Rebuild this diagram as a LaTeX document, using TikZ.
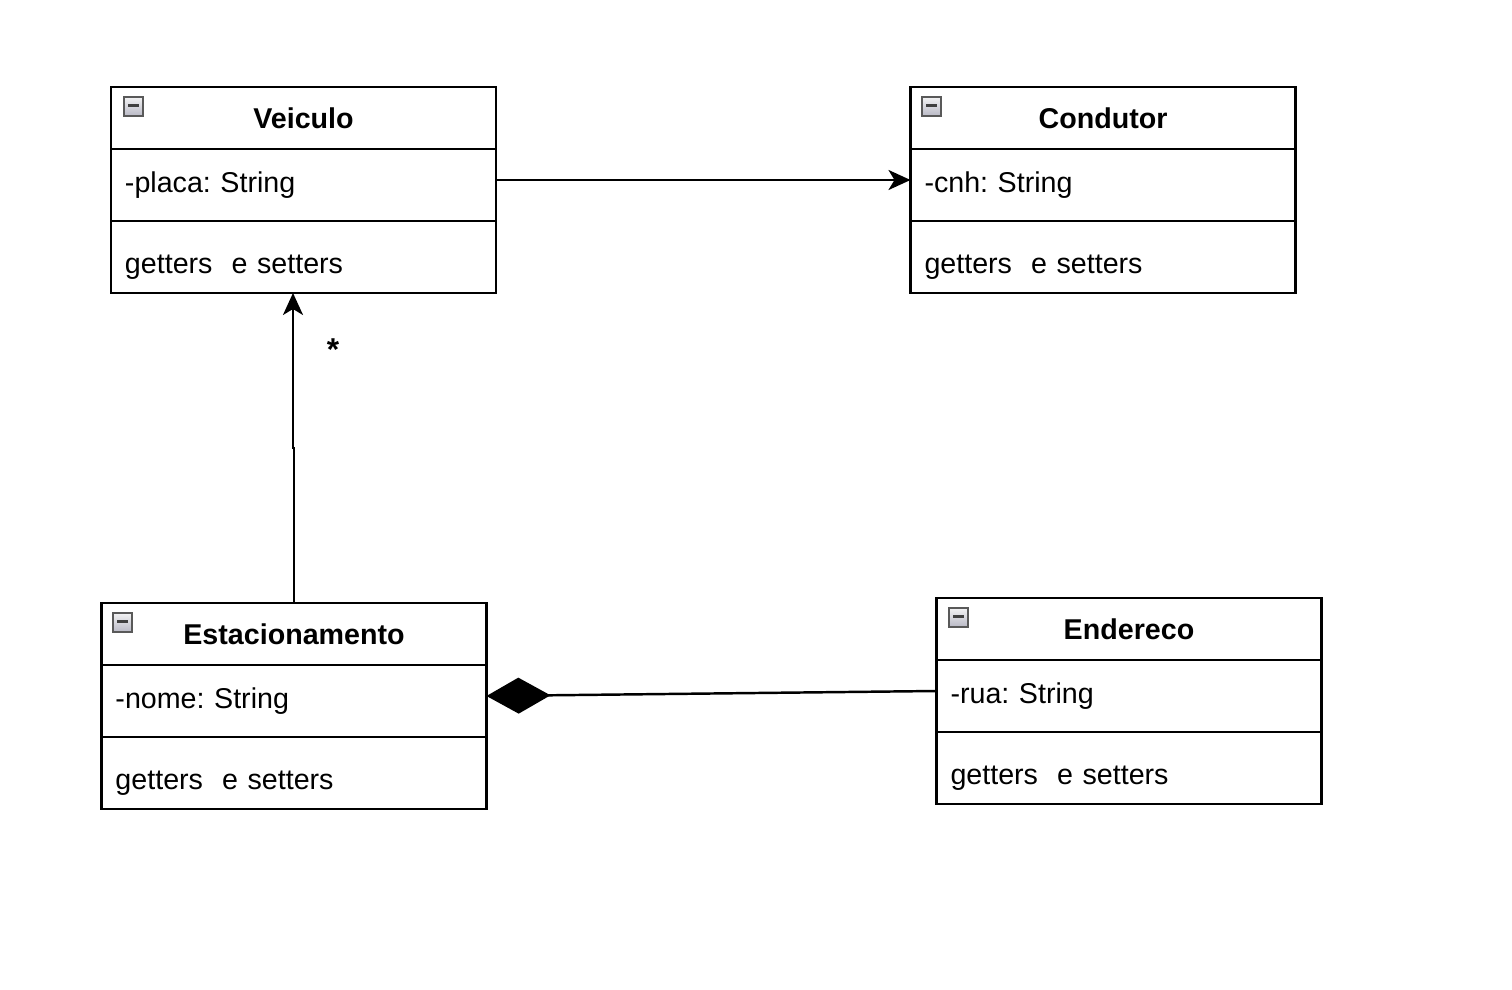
\documentclass[tikz,border=0pt]{standalone}
\usepackage{fontspec}
\setmainfont{Liberation Sans}
\frenchspacing
\usetikzlibrary{arrows.meta,positioning}
\tikzstyle{hd}=[draw=black,line width=.75pt,minimum width=3.85cm,minimum height=.62cm,inner sep=0pt,outer sep=0pt,font=\fontsize{8.15}{10}\selectfont\bfseries,text height=.26cm,text depth=.06cm]
\tikzstyle{att}=[draw=black,line width=.75pt,minimum width=3.85cm,minimum height=.72cm,inner xsep=.14cm,inner ysep=0pt,outer sep=0pt,text width=3.57cm,align=left,text height=.2cm,text depth=.06cm]
\tikzstyle{mth}=[att,text height=.38cm]
\tikzstyle{icn}=[draw=gray!70!black,line width=.3pt,top color=blue!5!gray!10,bottom color=blue!10!gray!50,minimum size=.19cm,inner sep=0pt,
  path picture={\draw[line width=.7pt,black!75] ([xshift=.04cm,yshift=.01cm]path picture bounding box.west) -- ([xshift=-.04cm,yshift=.01cm]path picture bounding box.east);}]
\tikzstyle{assoc}=[line width=.7pt,-{Stealth[length=.22cm,width=.2cm,inset=.06cm]}]
\tikzstyle{comp}=[line width=.7pt,-{Diamond[length=.64cm,width=.36cm]}]

\begin{document}
\begin{tikzpicture}[font=\fontsize{8.15}{10}\selectfont]
\useasboundingbox (0,0) rectangle (15.12,-9.90);
% Veiculo
\node[hd] (veiculo) at (3.035,-1.18) {Veiculo};
\node[att,anchor=north] (veiculoA) at (veiculo.south) {-placa: String};
\node[mth,anchor=north] (veiculoM) at (veiculoA.south) {getters\ \ e setters};
\node[icn] (veiculoI) at (1.335,-1.065) {};
% Condutor
\node[hd] (condutor) at (11.03,-1.18) {Condutor};
\node[att,anchor=north] (condutorA) at (condutor.south) {-cnh: String};
\node[mth,anchor=north] (condutorM) at (condutorA.south) {getters\ \ e setters};
\node[icn] (condutorI) at (9.315,-1.065) {};
% Estacionamento
\node[hd] (estacionamento) at (2.94,-6.34) {Estacionamento};
\node[att,anchor=north] (estacionamentoA) at (estacionamento.south) {-nome: String};
\node[mth,anchor=north] (estacionamentoM) at (estacionamentoA.south) {getters\ \ e setters};
\node[icn] (estacionamentoI) at (1.225,-6.225) {};
% Endereco
\node[hd] (endereco) at (11.29,-6.29) {Endereco};
\node[att,anchor=north] (enderecoA) at (endereco.south) {-rua: String};
\node[mth,anchor=north] (enderecoM) at (enderecoA.south) {getters\ \ e setters};
\node[icn] (enderecoI) at (9.585,-6.175) {};
% connectors
\draw[assoc] ([yshift=.05cm]veiculoA.east) -- ([yshift=.05cm]condutorA.west);
\coordinate (jog) at (2.93,-4.48);
\draw[assoc] (estacionamento.north) |- (jog) -- (jog |- veiculoM.south);
\node[font=\fontsize{9}{10}\selectfont\bfseries] (mult) at (3.33,-3.5) {*};
\draw[comp] ([yshift=.05cm]enderecoA.west) -- ([yshift=.05cm]estacionamentoA.east);
\end{tikzpicture}
\end{document}
